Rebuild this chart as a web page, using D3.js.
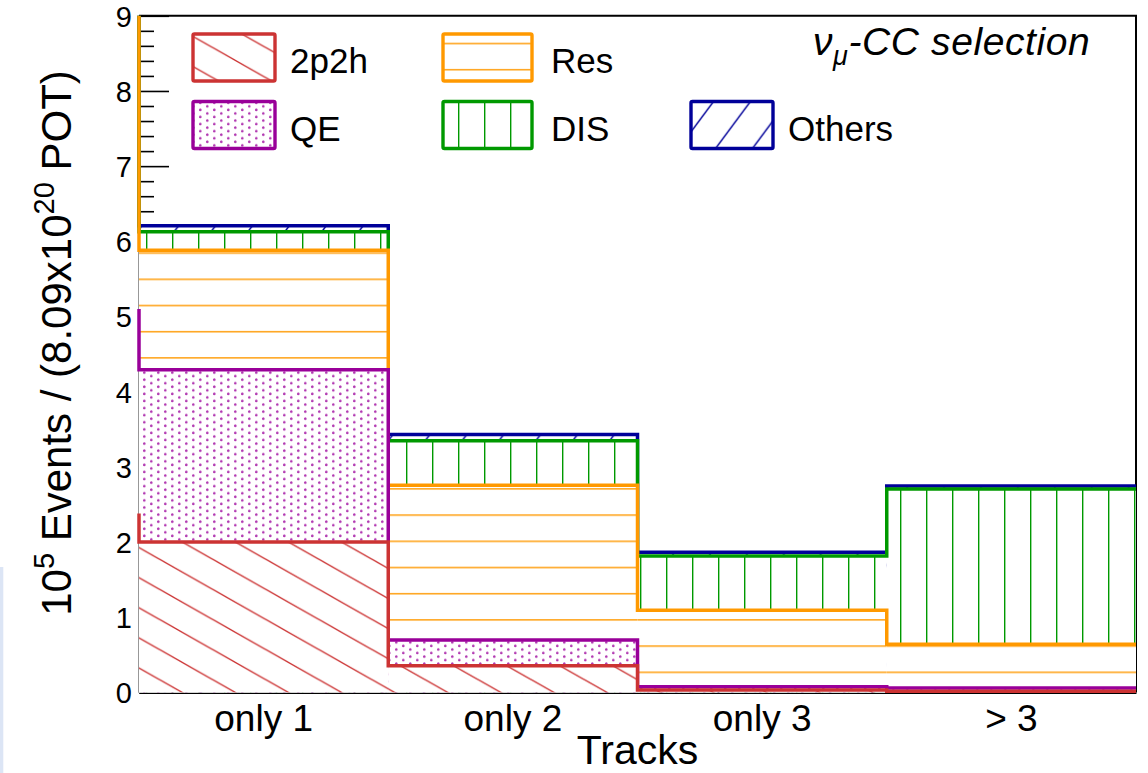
<!DOCTYPE html>
<html>
<head>
<meta charset="utf-8">
<script src="https://cdn.jsdelivr.net/npm/d3@7"></script>
<style>
  body { margin: 0; background: #fff; }
  svg { display: block; }
  text { font-family: "Liberation Sans", Arial, Helvetica, sans-serif; fill: #000; }
</style>
</head>
<body>
<svg id="chart" width="1148" height="773"></svg>
<script>
// ---- data (10^5 events per bin, stacked bottom to top) ----
const categories = ["only 1", "only 2", "only 3", "> 3"];
const values2p2h   = [2.00, 0.354, 0.03, 0.015];
const valuesQE     = [2.29, 0.342, 0.045, 0.042];
const valuesRes    = [1.59, 2.06, 1.016, 0.582];
const valuesDIS    = [0.247, 0.591, 0.722, 2.065];
const valuesOthers = [0.079, 0.084, 0.049, 0.04];
// underflow contents: only show up as the first vertical step of each outline
const underflow2p2h = 2.38, underflowQE = 2.72, underflowRes = 4.6, underflowDIS = 0.3, underflowOthers = 0.1;
const yTickValues = [0, 1, 2, 3, 4, 5, 6, 7, 8, 9];
const yMinorTickValues = [0.2,0.4,0.6,0.8,1.2,1.4,1.6,1.8,2.2,2.4,2.6,2.8,3.2,3.4,3.6,3.8,
  4.2,4.4,4.6,4.8,5.2,5.4,5.6,5.8,6.2,6.4,6.6,6.8,7.2,7.4,7.6,7.8,8.2,8.4,8.6,8.8];
const xTitle = "Tracks";
const selectionLabel = "-CC selection";

const series = [
  { name: "2p2h",   values: values2p2h,   under: underflow2p2h,   color: "#cc3333", pat: "pat2p2h" },
  { name: "QE",     values: valuesQE,     under: underflowQE,     color: "#990099", pat: "patQE" },
  { name: "Res",    values: valuesRes,    under: underflowRes,    color: "#ff9900", pat: "patRes" },
  { name: "DIS",    values: valuesDIS,    under: underflowDIS,    color: "#009900", pat: "patDIS" },
  { name: "Others", values: valuesOthers, under: underflowOthers, color: "#000099", pat: "patOthers" }
];

// cumulative tops
let running = categories.map(() => 0);
let runningUnder = 0;
series.forEach(s => {
  running = running.map((r, i) => r + s.values[i]);
  runningUnder += s.under;
  s.cum = running.slice();
  s.cumUnder = runningUnder;
});

const svg = d3.select("#chart");
const plot = { left: 139, right: 1136, top: 15.8, bottom: 692.3 };

const x = d3.scaleBand().domain(categories).range([plot.left, plot.right]).padding(0);
const y = d3.scaleLinear().domain([0, 9]).range([plot.bottom, plot.top]);

svg.append("rect").attr("width", 1148).attr("height", 773).attr("fill", "#fff");
svg.append("rect").attr("x", 0).attr("y", 567).attr("width", 3.3).attr("height", 206).attr("fill", "#dce5f5");

// ---- fill patterns, anchored in page space ----
const defs = svg.append("defs");
function pattern(id, px, py, w, h) {
  const p = defs.append("pattern").attr("id", id).attr("patternUnits", "userSpaceOnUse")
    .attr("x", px).attr("y", py).attr("width", w).attr("height", h);
  p.append("rect").attr("width", w).attr("height", h).attr("fill", "#fff");
  return p;
}
{ // 2p2h: "\" hatching
  const W = 53.1, H = 30.1;
  const p = pattern("pat2p2h", 0, 17.3, W, H);
  [-1, 0, 1].forEach(k => p.append("path")
    .attr("d", `M${-W},${-H + k * H}L${2 * W},${2 * H + k * H}`)
    .attr("stroke", "#cc3333").attr("stroke-width", 1.4).attr("fill", "none"));
}
{ // QE: staggered dots
  const W = 14, H = 7.1;
  const p = pattern("patQE", 0, 0, W, H);
  [[4.3, 3.3], [11.3, 6.85], [11.3, -0.25]].forEach(([cx, cy]) =>
    p.append("circle").attr("cx", cx).attr("cy", cy).attr("r", 1.35).attr("fill", "#b23ab2"));
}
{ // Res: horizontal lines
  const p = pattern("patRes", 0, 0, 10, 26.2);
  p.append("path").attr("d", "M0,17.3H10").attr("stroke", "#ff9900").attr("stroke-width", 1.4);
}
{ // DIS: vertical lines
  const p = pattern("patDIS", 0, 0, 26, 10);
  p.append("path").attr("d", "M16.7,0V10").attr("stroke", "#009900").attr("stroke-width", 1.4);
}
{ // Others: "/" hatching
  const W = 36.9, H = 49.8;
  const p = pattern("patOthers", 13.8, 0, W, H);
  [-1, 0, 1].forEach(k => p.append("path")
    .attr("d", `M${-W},${2 * H + k * H}L${2 * W},${-H + k * H}`)
    .attr("stroke", "#000099").attr("stroke-width", 1.4).attr("fill", "none"));
}

// ---- axes ----
const yAxis = d3.axisLeft(y).tickValues(yTickValues).tickSizeInner(-30).tickSizeOuter(0)
  .tickPadding(7).tickFormat(d3.format("d"));
const gy = svg.append("g").attr("transform", `translate(${plot.left},0)`).call(yAxis);
gy.select(".domain").attr("stroke", "#000").attr("stroke-width", 1.8);
gy.selectAll(".tick line").attr("stroke", "#000").attr("stroke-width", 1.6);
gy.selectAll(".tick text").attr("font-size", 29).attr("font-family", null).attr("dy", "0.36em");

const yMinor = d3.axisLeft(y).tickValues(yMinorTickValues).tickSizeInner(-15).tickSizeOuter(0).tickFormat("");
const gym = svg.append("g").attr("transform", `translate(${plot.left},0)`).call(yMinor);
gym.select(".domain").remove();
gym.selectAll(".tick line").attr("stroke", "#000").attr("stroke-width", 1.6);

// frame top / right
svg.append("path").attr("d", `M${plot.left},${plot.top}H${plot.right}V${plot.bottom}`)
  .attr("fill", "none").attr("stroke", "#000").attr("stroke-width", 2);

const xAxis = d3.axisBottom(x).tickSize(0).tickPadding(0);
const gx = svg.append("g").attr("transform", `translate(0,${plot.bottom})`).call(xAxis);
gx.select(".domain").attr("stroke", "#000").attr("stroke-width", 2.2);
gx.selectAll(".tick text").attr("font-size", 37).attr("font-family", null)
  .attr("y", 38.5).attr("dy", 0);

// ---- stacked histograms, drawn from the top of the stack down ----
defs.append("clipPath").attr("id", "plotClip").append("rect")
  .attr("x", 120).attr("y", plot.top).attr("width", plot.right - 120 + 1).attr("height", plot.bottom - plot.top + 8);
const gh = svg.append("g").attr("clip-path", "url(#plotClip)");

series.slice().reverse().forEach(s => {
  const g = gh.append("g");
  g.selectAll("rect").data(categories).join("rect")
    .attr("x", d => x(d))
    .attr("y", (d, i) => y(s.cum[i]))
    .attr("width", x.bandwidth())
    .attr("height", (d, i) => y(0) - y(s.cum[i]))
    .attr("fill", `url(#${s.pat})`);
  let d = `M${plot.left},${y(s.cumUnder)}`;
  categories.forEach((c, i) => { d += `V${y(s.cum[i])}H${x(c) + x.bandwidth()}`; });
  g.append("path").attr("d", d).attr("fill", "none").attr("stroke", s.color)
    .attr("stroke-width", 3.5).attr("stroke-linejoin", "miter");
});

// ---- legend ----
const legendCols = [
  { bx: 193, bw: 82, tx: 290 },
  { bx: 443, bw: 89, tx: 551 },
  { bx: 691, bw: 82, tx: 788 }
];
const legendRows = [{ by: 34, base: 73.3 }, { by: 101.5, base: 140.7 }];
const legendLayout = [
  ["2p2h", 0, 0], ["Res", 1, 0], ["QE", 0, 1], ["DIS", 1, 1], ["Others", 2, 1]
];
const gl = svg.append("g");
legendLayout.forEach(([name, col, row]) => {
  const s = series.find(e => e.name === name);
  const c = legendCols[col], r = legendRows[row];
  gl.append("rect").attr("x", c.bx).attr("y", r.by).attr("width", c.bw).attr("height", 47)
    .attr("fill", `url(#${s.pat})`).attr("stroke", s.color).attr("stroke-width", 3.4)
    .attr("rx", 1.5);
  gl.append("text").attr("x", c.tx).attr("y", r.base).attr("font-size", 35).text(s.name);
});

// selection label
const sel = svg.append("text").attr("x", 813).attr("y", 55).attr("font-size", 39)
  .attr("font-style", "italic").attr("letter-spacing", 0.6);
sel.append("tspan").text("\u03BD");
sel.append("tspan").attr("font-size", 27).attr("dy", 10).text("\u03BC");
sel.append("tspan").attr("dy", -10).text(selectionLabel);

// axis titles
svg.append("text").attr("x", (plot.left + plot.right) / 2).attr("y", 764)
  .attr("text-anchor", "middle").attr("font-size", 41).text(xTitle);

const yt = svg.append("text").attr("transform", "translate(71,343) rotate(-90)")
  .attr("text-anchor", "middle").attr("font-size", 42);
yt.append("tspan").text("10");
yt.append("tspan").attr("font-size", 29).attr("dy", -17).text("5");
yt.append("tspan").attr("dy", 17).text(" Events / (8.09x10");
yt.append("tspan").attr("font-size", 29).attr("dy", -17).text("20");
yt.append("tspan").attr("dy", 17).text(" POT)");
</script>
</body>
</html>
